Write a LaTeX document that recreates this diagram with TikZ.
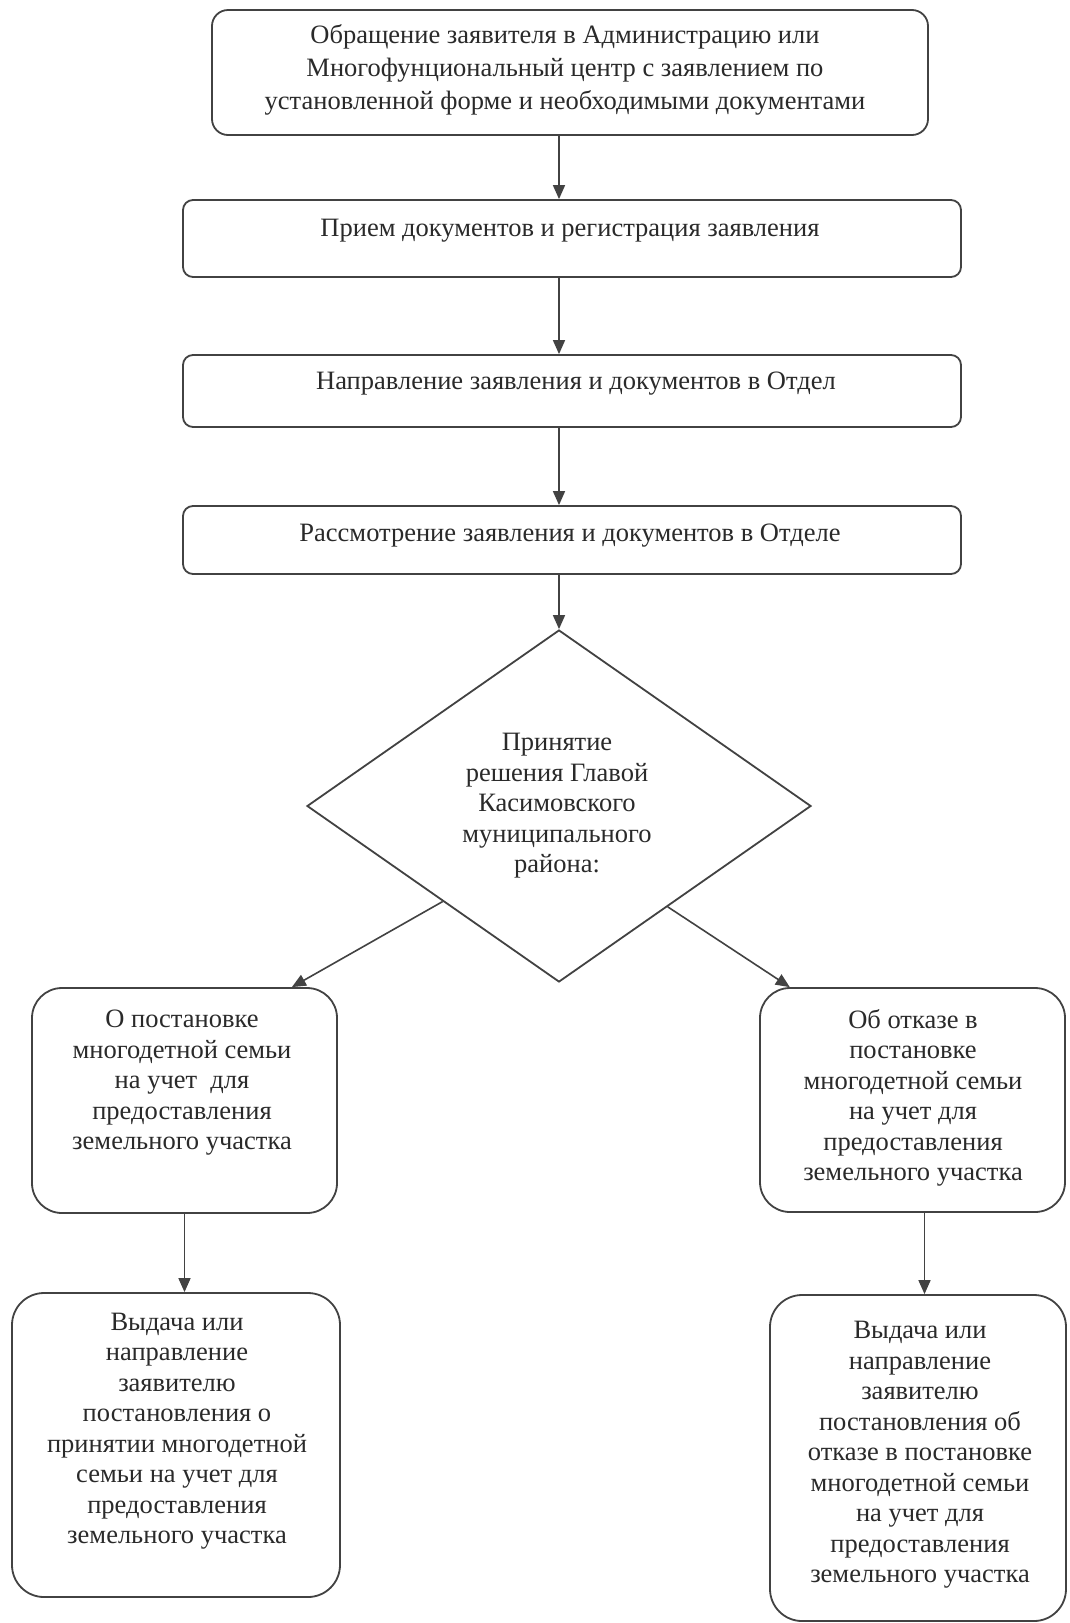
\documentclass[tikz,border=0pt]{standalone}
\usepackage{fontspec}
\setmainfont{Liberation Serif}
\usetikzlibrary{shapes.geometric,arrows.meta,calc}
\definecolor{linec}{HTML}{424242}
\definecolor{textc}{HTML}{2A2A2A}
\newcommand{\fsA}{\fontsize{26.5pt}{33pt}\selectfont}
\newcommand{\fsB}{\fontsize{26.5pt}{30.5pt}\selectfont}
\tikzset{
  box/.style={draw=linec, line width=1.8pt, inner sep=0pt, fill=white},
  txt/.style={align=center, text=textc, inner sep=0pt, font=\fsB},
  arr/.style={draw=linec, line width=1.6pt, -{Triangle[length=14pt,width=12pt]}},
}
\begin{document}
\begin{tikzpicture}[x=1pt,y=-1pt]
\useasboundingbox[fill=white] (0,0) rectangle (1069,1623);
% top chain
\node[box, rounded corners=16pt, minimum width=716pt, minimum height=125pt] (b1) at (570,72.5) {};
\node[txt, font=\fsA] (t1) at (565,70) {Обращение заявителя в Администрацию или\\Многофунциональный центр с заявлением по\\установленной форме и необходимыми документами};
\node[box, rounded corners=10pt, minimum width=778pt, minimum height=77pt] (b2) at (572,238.5) {};
\node[txt] (t2) at (570,231) {Прием документов и регистрация заявления};
\node[box, rounded corners=10pt, minimum width=778pt, minimum height=72pt] (b3) at (572,391) {};
\node[txt] (t3) at (576,384) {Направление заявления и документов в Отдел};
\node[box, rounded corners=10pt, minimum width=778pt, minimum height=68pt] (b4) at (572,540) {};
\node[txt] (t4) at (570,536) {Рассмотрение заявления и документов в Отделе};
% decision
\node[box, diamond, minimum width=504pt, minimum height=352pt] (d) at (559,806) {};
\node[txt] (td) at (557,806) {Принятие\\решения Главой\\Касимовского\\муниципального\\района:};
% lower boxes
\node[box, rounded corners=30pt, minimum width=305pt, minimum height=225pt] (l1) at (184.5,1100.5) {};
\node[txt] (tl1) at (182,1083) {О постановке\\многодетной семьи\\на учет\ \ для\\предоставления\\земельного участка};
\node[box, rounded corners=30pt, minimum width=305pt, minimum height=224pt] (r1) at (912.5,1100) {};
\node[txt] (tr1) at (913,1098) {Об отказе в\\постановке\\многодетной семьи\\на учет для\\предоставления\\земельного участка};
\node[box, rounded corners=32pt, minimum width=328pt, minimum height=304pt] (l2) at (176,1445) {};
\node[txt] (tl2) at (177,1431) {Выдача или\\направление\\заявителю\\постановления о\\принятии многодетной\\семьи на учет для\\предоставления\\земельного участка};
\node[box, rounded corners=32pt, minimum width=296pt, minimum height=326pt] (r2) at (918,1458) {};
\node[txt] (tr2) at (920,1455) {Выдача или\\направление\\заявителю\\постановления об\\отказе в постановке\\многодетной семьи\\на учет для\\предоставления\\земельного участка};
% connectors
\draw[arr] (b1.south -| d.north) -- (b2.north -| d.north);
\draw[arr] (b2.south -| d.north) -- (b3.north -| d.north);
\draw[arr] (b3.south -| d.north) -- (b4.north -| d.north);
\draw[arr] (b4.south -| d.north) -- (d.north);
\draw[arr] ($(d.west)!0.54!(d.south)$) -- ($(l1.north west)!0.85!(l1.north east)$);
\draw[arr] ($(d.east)!0.57!(d.south)$) -- ($(r1.north west)!0.1!(r1.north east)$);
\draw[arr] (l1.south) -- (l1.south |- l2.north);
\draw[arr] ([xshift=12pt]r1.south) -- ([xshift=12pt]r1.south |- r2.north);
\end{tikzpicture}
\end{document}
